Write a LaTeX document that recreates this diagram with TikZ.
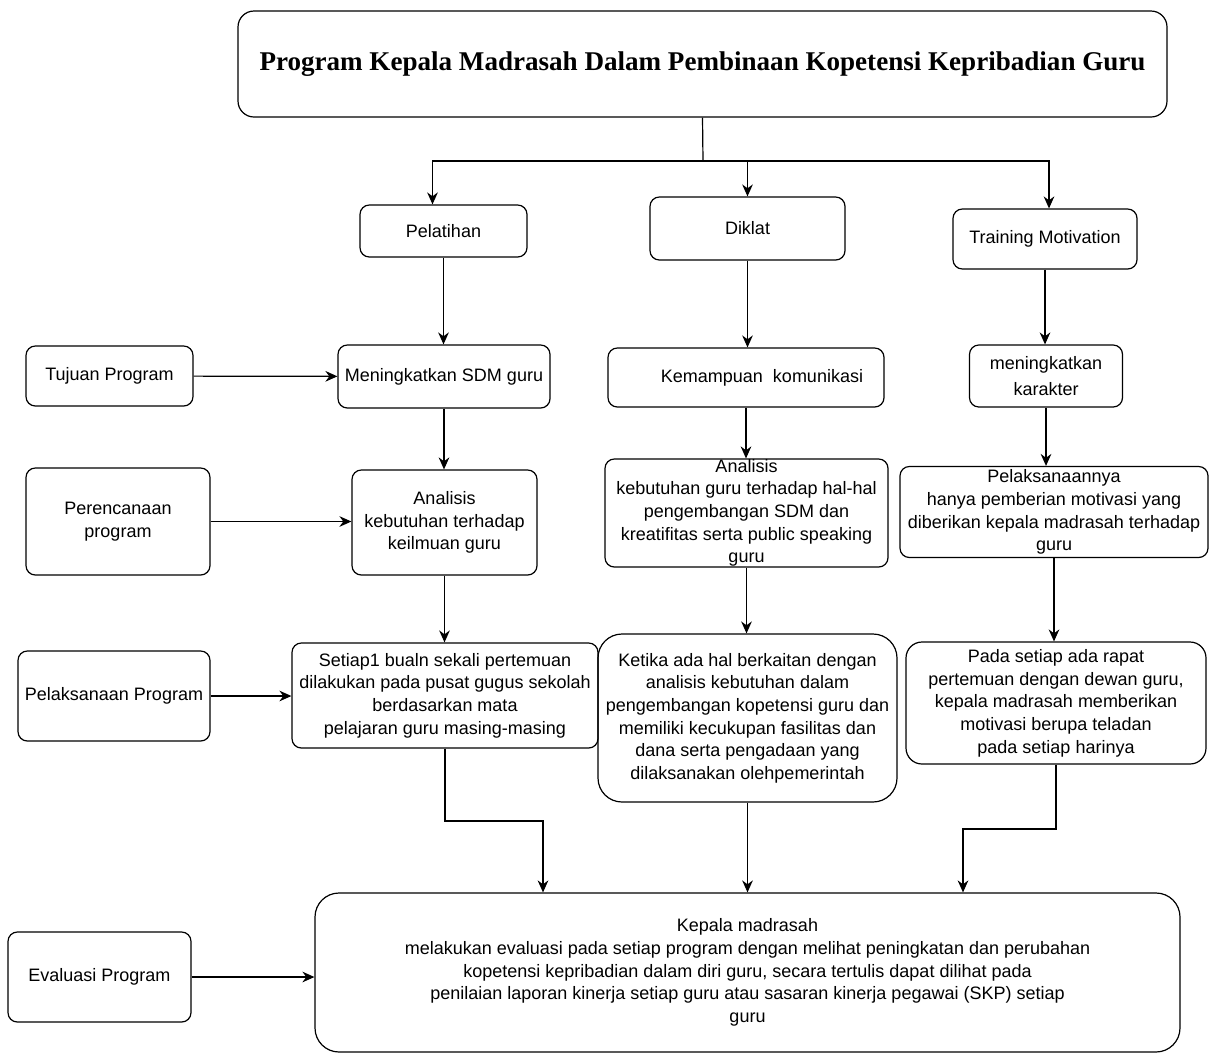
\documentclass[tikz,border=0pt]{standalone}
\usepackage{fontspec}
\setmainfont{Liberation Sans}
\newfontfamily\titlefont{Liberation Serif}
\usetikzlibrary{arrows.meta}

\begin{document}
\begin{tikzpicture}
[x=0.75pt, y=-0.75pt,
>={Stealth[length=9pt,width=8pt]},
font=\fontsize{13.5}{17}\selectfont,
box/.style={draw, rounded corners=7pt, align=center, inner sep=0pt, line width=0.9pt},
bigbox/.style={box, rounded corners=18pt},
boxsize/.style 2 args={minimum width=#1*0.75pt, minimum height=#2*0.75pt},
link/.style={->, line width=0.9pt}]
\useasboundingbox (0,0) rectangle (1209,1054);

\node (title) at (702.5,64) [box, rounded corners=12pt, boxsize={929}{106},
  font=\titlefont\bfseries\fontsize{20.3}{24}\selectfont]
  {Program Kepala Madrasah Dalam Pembinaan Kopetensi Kepribadian Guru};

\node (pel) at (443.5,231) [box, boxsize={167}{52}] {Pelatihan};
\node (dik) at (747.5,228.5) [box, boxsize={195}{63}] {Diklat};
\node (tm) at (1045,239) [box, boxsize={184}{60}] {Training Motivation};

\node (tuj) at (109.5,376) [box, boxsize={167}{60}] {Tujuan Program};
\node (msdm) at (444,376.5) [box, boxsize={212}{63}] {Meningkatkan SDM guru};
\node (kom) at (746,377.5) [box, boxsize={276}{59}] {\hspace*{24pt}Kemampuan\ \ komunikasi};
\node (kar) at (1046,376) [box, boxsize={153}{62}] {meningkatkan\\[3pt]karakter};

\node (per) at (118,521.5) [box, boxsize={184}{107}] {Perencanaan\\program};
\node (ana1) at (444.5,522.5) [box, boxsize={185}{105}] {Analisis\\kebutuhan terhadap\\keilmuan guru};
\node (ana2) at (746.5,513) [box, boxsize={283}{108}] {Analisis\\kebutuhan guru terhadap hal-hal\\pengembangan SDM dan\\kreatifitas serta public speaking\\guru};
\node (plk) at (1054,512) [box, boxsize={308}{91}] {Pelaksanaannya\\hanya pemberian motivasi yang\\diberikan kepala madrasah terhadap\\guru};

\node (pp) at (114,696) [box, boxsize={192}{90}] {Pelaksanaan Program};
\node (set) at (445,695.5) [box, boxsize={306}{105}] {Setiap1 bualn sekali pertemuan\\dilakukan pada pusat gugus sekolah\\berdasarkan mata\\pelajaran guru masing-masing};
\node (ket) at (747.5,718) [bigbox, boxsize={299}{168}] {Ketika ada hal berkaitan dengan\\analisis kebutuhan dalam\\pengembangan kopetensi guru dan\\memiliki kecukupan fasilitas dan\\dana serta pengadaan yang\\dilaksanakan olehpemerintah};
\node (pad) at (1056,703) [box, rounded corners=12pt, boxsize={300}{122}] {Pada setiap ada rapat\\pertemuan dengan dewan guru,\\kepala madrasah memberikan\\motivasi berupa teladan\\pada setiap harinya};

\node (ev) at (99.5,977) [box, boxsize={183}{90}] {Evaluasi Program};
\node (kep) at (747.5,972.5) [bigbox, boxsize={865}{159}] {Kepala madrasah\\melakukan evaluasi pada setiap program dengan melihat peningkatan dan perubahan\\kopetensi kepribadian dalam diri guru, secara tertulis dapat dilihat pada\\penilaian laporan kinerja setiap guru atau sasaran kinerja pegawai (SKP) setiap\\guru};

\coordinate (fork) at (703,161);
\draw [line width=0.9pt] (title.south) -- (fork);
\draw [link] (fork) -| ([xshift=-8.25pt]pel.north);
\draw [link] (fork) -| (dik.north);
\draw [link] (fork) -| ([xshift=3pt]tm.north);

\draw [link] (pel.south) -- (pel.south |- msdm.north);
\draw [link] (dik.south) -- (dik.south |- kom.north);
\draw [link] (tm.south) -- (tm.south |- kar.north);

\draw [link] (tuj) -- (msdm);
\draw [link] (msdm.south) -- (msdm.south |- ana1.north);
\draw [link] (kom.south) -- (kom.south |- ana2.north);
\draw [link] (kar.south) -- (kar.south |- plk.north);

\draw [link] (per) -- (per -| ana1.west);
\draw [link] (ana1.south) -- (ana1.south |- set.north);
\draw [link] (ana2.south) -- (ana2.south |- ket.north);
\draw [link] (plk.south) -- (plk.south |- pad.north);

\draw [link] (pp) -- (pp -| set.west);
\coordinate (bendl) at (543,821);
\draw [link] (set.south) |- (bendl) -- (bendl |- kep.north);
\draw [link] (ket.south) -- (ket.south |- kep.north);
\coordinate (bendr) at (963,829);
\draw [link] (pad.south) |- (bendr) -- (bendr |- kep.north);

\draw [link] (ev) -- (ev -| kep.west);
\end{tikzpicture}
\end{document}
